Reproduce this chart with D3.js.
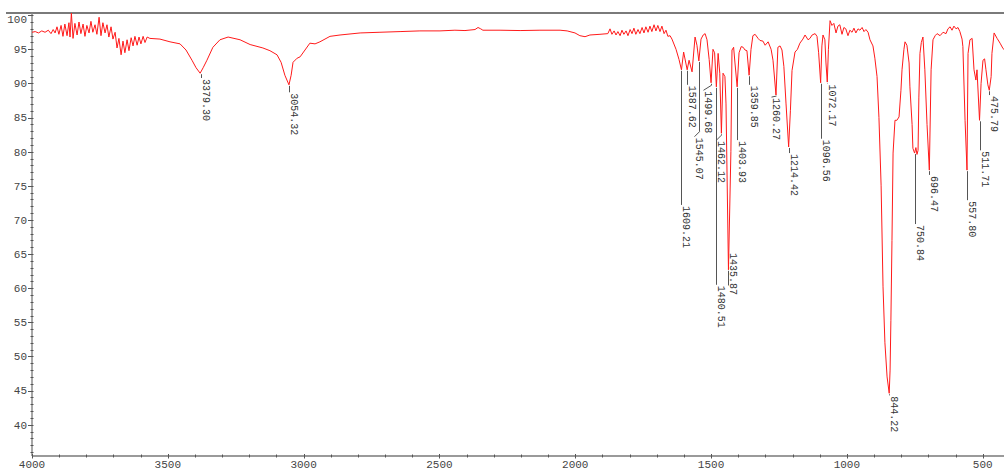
<!DOCTYPE html>
<html><head><meta charset="utf-8">
<script src="https://cdn.jsdelivr.net/npm/d3@7"></script>
<style>body{margin:0;background:#fff}svg{display:block}</style>
</head><body><svg id="c" width="1004" height="470"></svg>
<script>
// IR spectrum: wavenumber (cm-1) and transmittance (%T)
const wavenumber = [4000,3988,3976,3964,3952,3940,3930,3922,3915,3908,3901,3893,3886,3879,3871,3864,3860,3855,3849,3842,3834,3827,3820,3812,3805,3798,3790,3783,3776,3768,3761,3753,3746,3739,3731,3724,3717,3709,3702,3694,3687,3680,3672,3665,3658,3650,3643,3635,3628,3621,3613,3606,3599,3591,3584,3576,3566,3529,3492,3455,3433,3411,3396,3381,3370,3356,3334,3308,3278,3234,3197,3150,3124,3098,3083,3069,3054,3046,3039,3024,3013,2995,2977,2958,2940,2903,2866,2792,2719,2645,2572,2498,2443,2406,2369,2358,2348,2340,2277,2203,2130,2056,2030,2001,1983,1964,1946,1909,1880,1872,1865,1857,1850,1843,1835,1828,1821,1813,1806,1798,1791,1784,1777,1769,1762,1754,1747,1740,1732,1725,1718,1710,1703,1696,1688,1681,1673,1666,1659,1651,1644,1629,1618,1609,1601,1588,1581,1570,1559,1552,1545,1537,1529,1522,1515,1507,1500,1493,1487,1480.5,1474,1468,1462,1456,1449,1445,1436,1427,1423,1417,1412,1404,1397,1389,1382,1375,1368,1360,1353,1346,1338,1327,1320,1309,1301,1290,1279,1272,1261,1254,1246,1239,1232,1224,1214.4,1208,1202,1191,1182,1173,1162,1154,1143,1136,1128,1117,1110,1104,1096.6,1092,1088,1081,1077,1072.2,1068,1062,1055,1048,1040,1033,1026,1018,1011,1004,996,989,981,974,967,959,952,944,937,930,922,915,904,897,889,882,874,867,860,852,844.2,841,838,834,830,823,816,808,801,797,790,786,779,771,768,760,757,750.8,746,742,738,735,731,726,720,713,705,696.5,690,683,675,668,657,646,635,628,620,613,606,598,591,584,576,573,565,557.8,554,547,539,532,525,521,511.7,506,499,493,488,481,475.8,469,466,458,447,436,425,407];
const transmittance = [97.5,97.6,97.4,97.7,97.5,97.8,97.3,97.9,97.4,98.3,97.2,98.5,96.9,98.7,97.0,98.9,96.8,100.3,96.6,98.8,97.1,99.0,97.3,98.7,96.9,98.5,97.4,99.1,97.5,98.6,97.2,99.7,97.0,98.9,97.4,98.6,96.8,98.3,96.5,97.5,95.2,96.6,94.2,96.2,94.5,96.4,94.8,96.7,95.5,96.9,95.6,96.8,95.8,96.9,96.0,96.8,96.6,96.5,96.1,95.8,94.9,93.4,92.3,91.5,92.3,93.4,95.3,96.4,96.8,96.4,95.7,95.2,94.8,94.2,93.1,91.2,89.8,91.2,93.1,93.7,93.9,94.9,95.9,95.8,96.1,96.9,97.1,97.4,97.5,97.6,97.7,97.7,97.8,97.75,97.9,98.2,98.0,97.8,97.8,97.75,97.8,97.8,97.7,97.4,97.0,96.85,97.1,97.2,97.3,98.0,97.2,97.7,97.1,97.6,97.0,97.8,97.2,97.7,97.0,97.9,97.3,98.1,97.2,97.9,97.3,98.2,97.4,98.3,97.5,98.4,97.6,98.6,97.7,98.5,97.6,98.4,97.3,97.8,96.9,97.0,96.5,95.0,93.5,92.0,94.6,92.0,93.4,91.7,96.8,95.6,93.3,96.5,97.1,97.3,96.4,93.5,90.1,95.0,94.5,89.5,94.4,91.5,82.7,91.5,91.0,87.0,62.7,80.0,94.9,95.3,93.0,89.5,94.5,95.4,95.3,94.9,94.8,91.2,95.0,97.0,97.2,96.6,96.3,96.2,95.6,96.1,95.0,93.4,88.3,95.3,95.5,94.9,92.5,87.0,80.7,86.0,91.9,94.6,95.0,95.9,96.5,97.1,96.4,96.6,97.1,97.3,96.9,94.5,90.1,95.5,97.1,96.4,93.0,90.2,95.0,99.2,98.5,98.8,97.4,98.4,98.6,97.2,98.2,98.0,97.0,97.8,97.5,98.1,97.4,98.0,97.8,98.2,97.6,97.9,97.5,96.4,95.5,93.7,91.0,85.0,75.0,60.2,52.0,47.0,44.6,48.0,55.3,67.0,79.8,84.6,84.6,85.1,89.0,92.0,95.0,96.1,95.6,93.0,89.5,84.0,80.5,79.8,80.6,79.6,80.2,88.0,94.4,96.0,96.8,92.0,84.0,77.3,92.0,96.4,97.0,97.3,97.0,97.5,97.3,98.0,98.3,97.8,98.4,98.0,98.2,97.6,96.5,95.4,84.6,77.3,94.4,96.4,96.6,92.0,90.5,92.0,84.6,90.0,93.4,93.6,92.0,89.8,89.0,91.0,94.4,97.4,96.6,95.9,95.1,94.5];

// Labelled peaks: position, tip transmittance, %T where the label text starts, %T where the leader ends
const peakWavenumber = [3379.30,3054.32,1609.21,1587.62,1545.07,1499.68,1480.51,1462.12,1435.87,1403.93,1359.85,1260.27,1214.42,1096.56,1072.17,844.22,750.84,696.47,557.80,511.71,475.79];
const peakDepth = [91.5,89.8,92.0,92.0,93.3,90.1,89.5,82.7,62.7,89.5,91.2,88.3,80.7,90.1,90.2,44.6,79.8,77.3,77.3,84.6,89.0];
const peakLabelAt = [90.8,88.7,72.2,89.8,82.2,89.0,60.5,81.7,65.3,81.7,89.8,88.0,79.8,81.9,90.0,44.3,69.4,76.6,72.9,80.2,88.3];
const peakLeaderTo = [90.8,88.7,72.2,89.8,82.2,89.0,60.5,81.7,60.4,81.7,89.8,88.0,79.8,81.9,90.0,44.3,69.4,76.6,72.9,80.2,88.3];
// layout only: horizontal nudge (px) of crowded labels
const labelNudge = [0,0,0,0,-5,-8,0,-5,0,0,0,-5,0,0,0,0,0,0,0,0,0];

const xTickValues = [4000,3500,3000,2500,2000,1500,1000,500];
const yTickValues = [40,45,50,55,60,65,70,75,80,85,90,95,100];

(function () {
const svg = d3.select('#c');
const W = 1004, pL = 32, pT = 13, pB = 456;
const x = d3.scaleLinear().domain([4000, 400]).range([32, 32 + 3600 * 0.27163]);
const y = d3.scaleLinear().domain([40, 100]).range([424.7, 424.7 - 60 * 6.825]);
const mono = 'Liberation Mono, DejaVu Sans Mono, monospace';

svg.append('defs').append('clipPath').attr('id', 'clip')
  .append('rect').attr('x', pL).attr('y', pT).attr('width', W - pL).attr('height', pB - pT);

// top frame line
svg.append('line').attr('x1', 6).attr('x2', W).attr('y1', pT).attr('y2', pT)
  .attr('stroke', '#7a7a7a').attr('stroke-width', 2);

// y axis
const yMinor = d3.range(36, 101, 1);
const yAx = svg.append('g');
yAx.append('line').attr('x1', pL).attr('x2', pL).attr('y1', pT).attr('y2', pB)
  .attr('stroke', '#8a8a8a').attr('stroke-width', 1.5);
yAx.selectAll('.mn').data(yMinor).join('line').attr('class', 'mn')
  .attr('x1', pL - 1.5).attr('x2', pL + 1.5)
  .attr('y1', d => Math.round(y(d)) + 0.5).attr('y2', d => Math.round(y(d)) + 0.5)
  .attr('stroke', '#555').attr('stroke-width', 1);
yAx.selectAll('.mj').data(yTickValues).join('line').attr('class', 'mj')
  .attr('x1', pL - 4).attr('x2', pL + 1)
  .attr('y1', d => Math.round(y(d)) + 0.5).attr('y2', d => Math.round(y(d)) + 0.5)
  .attr('stroke', '#555').attr('stroke-width', 1);
yAx.selectAll('text').data(yTickValues).join('text')
  .attr('x', 27).attr('y', d => Math.max(19, y(d)))
  .attr('dy', '0.35em').attr('text-anchor', 'end')
  .attr('font-family', mono).attr('font-size', 11)
  .attr('fill', '#444').text(d => d);

// x axis
const xMinor = d3.range(4000, 399, -100);
const xAx = svg.append('g');
xAx.append('line').attr('x1', pL).attr('x2', W).attr('y1', pB).attr('y2', pB)
  .attr('stroke', '#9a9a9a').attr('stroke-width', 2);
xAx.selectAll('.mn').data(xMinor).join('line').attr('class', 'mn')
  .attr('x1', d => Math.round(x(d)) + 0.5).attr('x2', d => Math.round(x(d)) + 0.5)
  .attr('y1', pB - 1.5).attr('y2', pB + 1.5)
  .attr('stroke', '#555').attr('stroke-width', 1);
xAx.selectAll('.mj').data(xTickValues).join('line').attr('class', 'mj')
  .attr('x1', d => Math.round(x(d)) + 0.5).attr('x2', d => Math.round(x(d)) + 0.5)
  .attr('y1', pB - 2).attr('y2', pB + 2.5)
  .attr('stroke', '#555').attr('stroke-width', 1);
xAx.selectAll('text').data(xTickValues).join('text')
  .attr('x', d => x(d)).attr('y', 468)
  .attr('text-anchor', 'middle')
  .attr('font-family', mono).attr('font-size', 11)
  .attr('fill', '#444').text(d => d);

// spectrum
const pts = wavenumber.map((w, i) => [w, transmittance[i]]);
svg.append('path').datum(pts)
  .attr('clip-path', 'url(#clip)')
  .attr('fill', 'none').attr('stroke', '#ff1a1a').attr('stroke-width', 1)
  .attr('stroke-linejoin', 'round')
  .attr('d', d3.line().x(d => x(d[0])).y(d => y(d[1])));

// peak labels
const peaks = peakWavenumber.map((w, i) => ({w, tip: peakDepth[i], lab: peakLabelAt[i], lead: peakLeaderTo[i], nudge: labelNudge[i]}));
const pg = svg.append('g');
pg.selectAll('path').data(peaks).join('path')
  .attr('fill', 'none').attr('stroke', '#555').attr('stroke-width', 1)
  .attr('d', d => {
    const px = Math.round(x(d.w)) + 0.5, y0 = y(d.tip) + 1, y1 = y(d.lead);
    if (!d.nudge) return `M${px},${y0}V${y1}`;
    const ym = Math.max(y0, y1 - 5);
    return `M${px},${y0}V${ym}L${px + d.nudge},${y1}`;
  });
pg.selectAll('text').data(peaks).join('text')
  .attr('transform', d => `translate(${Math.round(x(d.w)) + 2 + d.nudge},${y(d.lab) + 1}) rotate(90)`)
  .attr('font-family', mono).attr('font-size', 10)
  .attr('fill', '#333').text(d => d.w.toFixed(2));
})();
</script></body></html>
